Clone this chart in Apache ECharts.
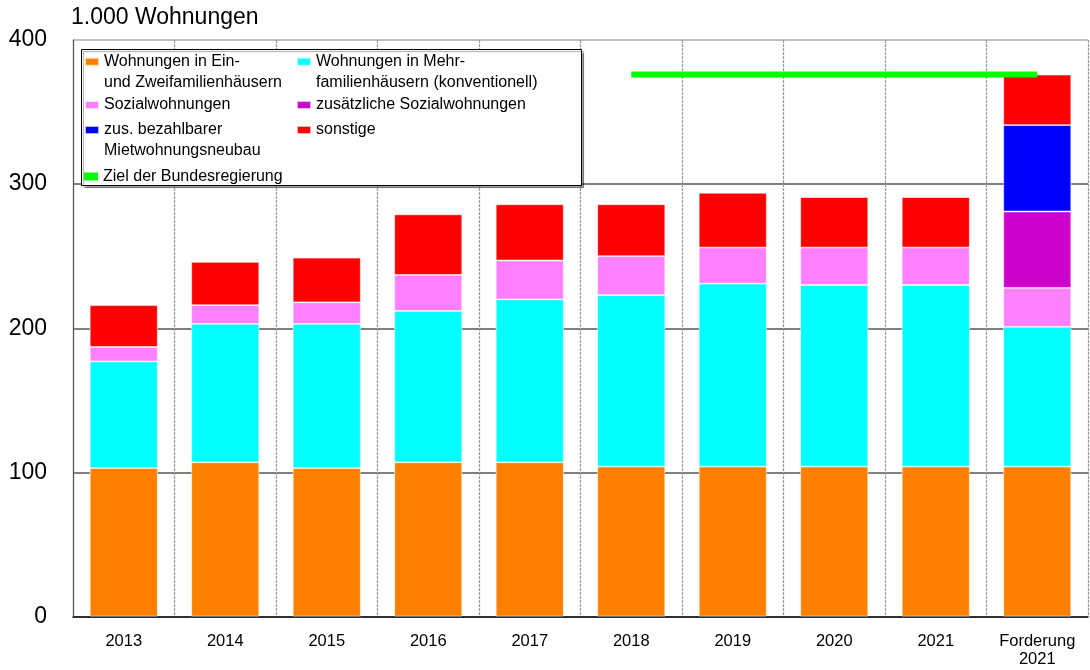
<!DOCTYPE html>
<html>
<head>
<meta charset="utf-8">
<script src="https://cdn.jsdelivr.net/npm/echarts@6/dist/echarts.min.js"></script>
<style>html,body{margin:0;padding:0;background:#fff}#c{width:1090px;height:670px}</style>
</head>
<body>
<div id="c"></div>
<script>
const categories = ['2013','2014','2015','2016','2017','2018','2019','2020','2021','Forderung\n2021'];
const einZwei   = [103, 107, 103, 107, 107, 104, 104, 104, 104, 104];
const mehr      = [74, 96, 100, 105, 113, 119, 127, 126, 126, 97];
const sozial    = [10, 13, 15, 25, 27, 27, 25, 26, 26, 27];
const zusSozial = [null, null, null, null, null, null, null, null, null, 53];
const zusMiet   = [null, null, null, null, null, null, null, null, null, 60];
const sonstige  = [29, 30, 31, 42, 39, 36, 38, 35, 35, 35];
const ziel      = [null, null, null, null, null, 376, 376, 376, 376, 376];
const yTicks = { min: 0, max: 400, interval: 100 };

const N = {
  a: 'Wohnungen in Ein-\nund Zweifamilienhäusern',
  b: 'Wohnungen in Mehr-\nfamilienhäusern (konventionell)',
  c: 'Sozialwohnungen',
  d: 'zusätzliche Sozialwohnungen',
  e: 'zus. bezahlbarer\nMietwohnungsneubau',
  f: 'sonstige',
  g: 'Ziel der Bundesregierung'
};
const FONT = 'Liberation Sans, Arial, sans-serif';
const barStyle = c => ({ color: c, borderColor: 'rgba(255,255,255,0.7)', borderWidth: 0.8 });
function bar(name, data, color) {
  return { name, type: 'bar', stack: 'total', data, barCategoryGap: '33%', itemStyle: barStyle(color), emphasis: { disabled: true } };
}
function leg(name, left, iconCenter, twoLines) {
  const o = {
    data: [name],
    left, top: iconCenter - (twoLines ? 31.5 : 10.5),
    padding: 0, icon: 'rect', itemWidth: 14, itemHeight: 8, selectedMode: false,
    textStyle: { fontSize: 16, lineHeight: 21, color: '#000', fontFamily: FONT }
  };
  if (twoLines) o.formatter = n => ' \n' + n;
  return o;
}
const chart = echarts.init(document.getElementById('c'));
chart.setOption({
  animation: false,
  textStyle: { fontFamily: FONT },
  title: { text: '1.000 Wohnungen', left: 71, top: 6, padding: 0,
    textStyle: { fontSize: 23, fontWeight: 'normal', color: '#000', fontFamily: FONT } },
  grid: { left: 73, right: 2, top: 40, bottom: 53.5 },
  graphic: [{
    type: 'rect', z: 3, shape: { x: 81.5, y: 49.5, width: 500, height: 136 },
    style: { fill: '#fff', stroke: '#000', lineWidth: 1, shadowColor: 'rgba(0,0,0,0.35)', shadowOffsetX: 2, shadowOffsetY: 2, shadowBlur: 1 }
  }],
  legend: [
    leg(N.a, 84, 61.7, true),
    leg(N.c, 84, 105, false),
    leg(N.e, 84, 130, true),
    leg(N.g, 84, 176.5, false),
    leg(N.b, 296, 61.7, true),
    leg(N.d, 296, 105, false),
    leg(N.f, 296, 130, false)
  ],
  xAxis: {
    type: 'category', data: categories,
    axisLine: { lineStyle: { color: '#222', width: 1.5 } },
    axisTick: { show: false },
    axisLabel: { fontSize: 16.5, lineHeight: 18, color: '#000', margin: 16, fontFamily: FONT, interval: 0 },
    splitLine: { show: true, lineStyle: { type: [3, 1], color: '#999', width: 1.2 } }
  },
  yAxis: {
    type: 'value', min: yTicks.min, max: yTicks.max, interval: yTicks.interval,
    axisLine: { show: true, lineStyle: { color: '#555', width: 1.2 } },
    axisTick: { show: false },
    axisLabel: { fontSize: 23, color: '#000', margin: 26, fontFamily: FONT },
    splitLine: { show: true, lineStyle: { color: ['#222', '#555', '#555', '#555', '#aaa'], width: 1.5 } }
  },
  series: [
    bar(N.a, einZwei, '#ff8000'),
    bar(N.b, mehr, '#00ffff'),
    bar(N.c, sozial, '#ff80ff'),
    bar(N.d, zusSozial, '#cc00cc'),
    bar(N.e, zusMiet, '#0000ff'),
    bar(N.f, sonstige, '#ff0000'),
    { name: N.g, type: 'line', data: ziel, symbol: 'none', z: 5,
      lineStyle: { color: '#00ff00', width: 6 }, itemStyle: { color: '#00ff00' }, emphasis: { disabled: true } }
  ]
});
</script>
</body>
</html>
